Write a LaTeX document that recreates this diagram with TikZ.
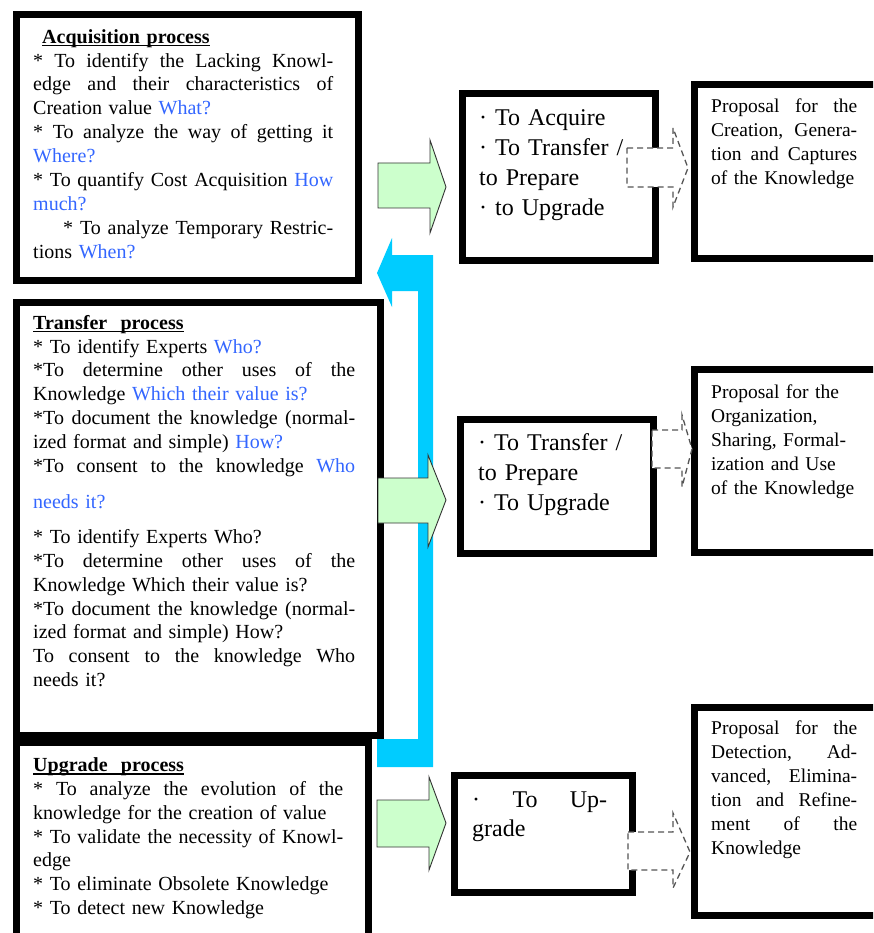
\documentclass[tikz,border=0pt]{standalone}
\usepackage{fontspec}
\setmainfont{Liberation Serif}
\definecolor{qblue}{RGB}{51,102,255}
\definecolor{cyanbar}{RGB}{0,204,255}
\definecolor{lgreen}{RGB}{204,255,204}
\definecolor{dashgray}{RGB}{85,85,85}
\newcommand\jl[2]{\leavevmode\hbox to #1pt{\spaceskip=0.25em plus 1fil\relax #2}}
\newcommand\bq[1]{\textcolor{qblue}{#1}}
\newcommand\ttl[1]{\setbox0\hbox{\textbf{#1}}\rlap{\rule[-2.5pt]{\wd0}{1.1pt}}\box0}
\setlength\parindent{0pt}
\tikzset{
  box/.style={draw=black, line width=7pt, fill=white, rectangle, inner sep=0pt, anchor=north west},
  tl/.style={font=\fontsize{20}{23.9}\selectfont, align=left, inner sep=0pt, anchor=north west},
  tm/.style={font=\fontsize{24}{30}\selectfont, align=left, inner sep=0pt, anchor=north west},
  tr/.style={font=\fontsize{19.5}{24}\selectfont, align=left, inner sep=0pt, anchor=north west},
  garrow/.style={fill=lgreen, draw=black!80, line width=0.9pt, line join=miter},
  darrow/.style={fill=white, draw=dashgray, line width=1.3pt, dash pattern=on 6pt off 4pt},
}
\begin{document}
\begin{tikzpicture}[x=1pt,y=-1pt]
\clip (0,0) rectangle (873,933);
\fill[white] (0,0) rectangle (873,933);
% cyan bent arrow
\fill[cyanbar] (377,273) -- (392,238) -- (392,255) -- (433,255) -- (433,767) -- (377,767)
  -- (377,739) -- (418,739) -- (418,291) -- (392,291) -- (392,307) -- cycle;
% boxes
\node[box, minimum width=342pt, minimum height=265pt] (acq) at (12.5,11.5) {};
\node[box, minimum width=364pt, minimum height=432.5pt] (tra) at (12.5,299) {};
\node[box, minimum width=352pt, minimum height=221pt] (upg) at (12.5,739) {};
\node[box, minimum width=193pt, minimum height=166pt] (m1) at (458.5,90.5) {};
\node[box, minimum width=193pt, minimum height=134pt] (m2) at (456.5,415.5) {};
\node[box, minimum width=178pt, minimum height=117pt] (m3) at (450.5,771.5) {};
\node[box, minimum width=209.5pt, minimum height=173pt] (r1) at (690.5,81.5) {};
\node[box, minimum width=209.5pt, minimum height=183pt] (r2) at (690.5,365.5) {};
\node[box, minimum width=209.5pt, minimum height=208pt] (r3) at (690.5,703.5) {};
% green arrows
\draw[garrow] (378,163) -- (430,163) -- (430,140) -- (446,187) -- (430,233) -- (430,208) -- (378,208) -- cycle;
\draw[garrow] (378,478) -- (428,478) -- (428,455) -- (446,500) -- (428,547) -- (428,523) -- (378,523) -- cycle;
\draw[garrow] (377,800) -- (429,800) -- (429,777) -- (446,823) -- (429,870) -- (429,847) -- (377,847) -- cycle;
% texts
\node[tl, text width=300pt] (acqT) at (33,26.2) {\strut\hspace*{9pt}\ttl{Acquisition process}\\
\jl{300}{* To identify the Lacking Knowl-}\\
\jl{300}{edge and their characteristics of}\\
Creation value \bq{What?}\\
\jl{300}{* To analyze the way of getting it}\\
\bq{Where?}\\
\jl{300}{* To quantify Cost Acquisition \bq{How}}\\
\bq{much?}\\
\hspace*{30pt}\jl{270}{* To analyze Temporary Restric-}\\
tions \bq{When?}};
\node[tl, text width=322pt] (traT) at (33,312.2) {\strut\ttl{Transfer\ \ process}\\{}%
* To identify Experts \bq{Who?}\\
\jl{322}{*To determine other uses of the}\\
Knowledge \bq{Which their value is?}\\
\jl{322}{*To document the knowledge (normal-}\\
ized format and simple) \bq{How?}\\
\jl{322}{*To consent to the knowledge \bq{Who}}\\[12pt]
\bq{needs it?}\\[11pt]{}%
* To identify Experts Who?\\
\jl{322}{*To determine other uses of the}\\
Knowledge Which their value is?\\
\jl{322}{*To document the knowledge (normal-}\\
ized format and simple) How?\\
\jl{322}{To consent to the knowledge Who}\\
needs it?};
\node[tl, text width=310pt, font=\fontsize{20}{23.7}\selectfont] (upgT) at (33,755.2) {\strut\ttl{Upgrade\ \ process}\\
\jl{310}{* To analyze the evolution of the}\\
knowledge for the creation of value\\
\jl{310}{* To validate the necessity of Knowl-}\\
edge\\{}%
* To eliminate Obsolete Knowledge\\{}%
* To detect new Knowledge};
\node[tm, text width=170pt] (m1T) at (479,104.5) {\strut· To Acquire\\
·\hspace{8pt}To Transfer /\\
to Prepare\\
· to Upgrade};
\node[tm, text width=170pt] (m2T) at (478,429.5) {\strut· To Transfer /\\
to Prepare\\
· To Upgrade};
\node[tm, text width=135pt, font=\fontsize{24}{29}\selectfont] (m3T) at (472,787.2) {\strut\jl{135}{· To Up-}\\
grade};
\node[tr, text width=146pt] (r1T) at (711,95.2) {\strut\jl{146}{Proposal for the}\\
\jl{146}{Creation, Genera-}\\
\jl{146}{tion and Captures}\\
of the Knowledge};
\node[tr, text width=150pt] (r2T) at (711,381.2) {\strut Proposal for the\\
Organization,\\
Sharing, Formal-\\
ization and Use\\
of the Knowledge};
\node[tr, text width=146pt] (r3T) at (711,717.2) {\strut\jl{146}{Proposal for the}\\
\jl{146}{Detection, Ad-}\\
\jl{146}{vanced, Elimina-}\\
\jl{146}{tion and Refine-}\\
\jl{146}{ment of the}\\
Knowledge};
% dashed block arrows
\draw[darrow] (627,148) -- (673,148) -- (673,128) -- (688,168) -- (673,207) -- (673,187) -- (627,187) -- cycle;
\draw[darrow] (652,430) -- (682,430) -- (682,415) -- (692,449) -- (682,487) -- (682,468) -- (652,468) -- cycle;
\draw[darrow] (628,832) -- (673,832) -- (673,813) -- (690,852) -- (673,888) -- (673,870) -- (628,870) -- cycle;
\end{tikzpicture}
\end{document}
